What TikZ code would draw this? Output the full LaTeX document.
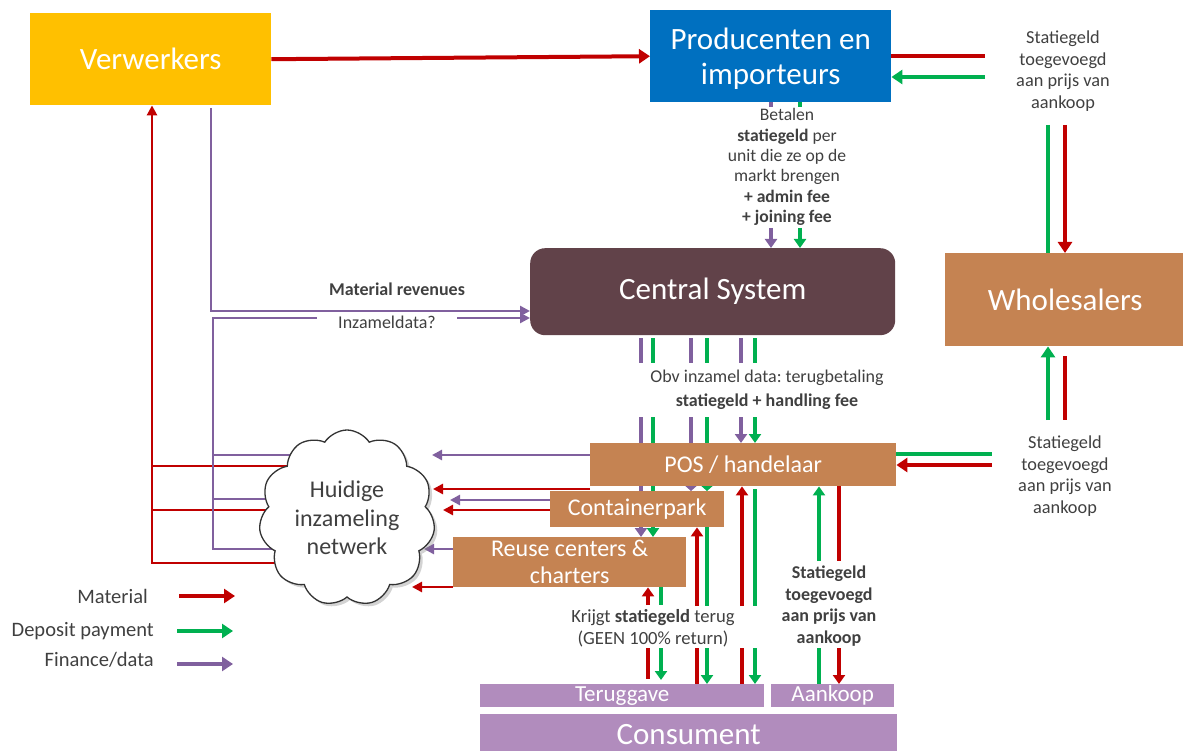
\documentclass[tikz,border=0pt]{standalone}
\usepackage{fontspec}
\setmainfont{Carlito}
\usetikzlibrary{arrows.meta,shapes.symbols,shadows,backgrounds}
\frenchspacing

\definecolor{gold}{HTML}{FFC000}
\definecolor{prodblue}{HTML}{0070C0}
\definecolor{csbrown}{RGB}{97,66,73}
\definecolor{tanbox}{RGB}{197,131,82}
\definecolor{lilac}{RGB}{177,140,189}
\definecolor{matred}{HTML}{C00000}
\definecolor{depgreen}{HTML}{00B050}
\definecolor{finpurple}{RGB}{128,96,158}
\definecolor{txtgray}{HTML}{404040}

\newcommand\fsz[2]{\fontsize{#1}{#2}\selectfont}

\tikzset{
  box/.style={inner sep=0pt, text=white, align=center, anchor=north west},
  lbl/.style={inner sep=0pt, text=txtgray, align=center},
  matline/.style={draw=matred, line width=4.5pt},
  depline/.style={draw=depgreen, line width=4.5pt},
  finline/.style={draw=finpurple, line width=4.5pt},
  matthin/.style={draw=matred, line width=2.7pt},
  finthin/.style={draw=finpurple, line width=2.7pt},
  headbig/.style={-{Triangle[length=11pt,width=14pt]}},
  headmid/.style={-{Triangle[length=9pt,width=12pt]}},
  headtiny/.style={-{Triangle[length=5pt,width=11pt]}},
  headthin/.style={-{Triangle[length=10pt,width=10pt]}},
}

\begin{document}
\begin{tikzpicture}[x=1pt,y=-1pt]
\useasboundingbox (0,0) rectangle (1183,751);

% ---------- boxes ----------
\node[box, fill=gold, minimum width=241pt, minimum height=92pt, font=\fsz{31}{35}] (verw) at (30,13) {Verwerkers};
\node[box, fill=prodblue, minimum width=241pt, minimum height=92pt] (prod) at (650,10) {};
\node[lbl, text=white, font=\fsz{31}{35}] (prodtxt) at ([yshift=-2.5pt]prod.center) {Producenten en\\importeurs};
\node[box, fill=csbrown, rounded corners=15pt, minimum width=365pt, minimum height=87pt, font=\fsz{31}{35}] (cs) at (530,248) {\raisebox{-3pt}{Central System}};
\node[box, fill=tanbox, minimum width=240pt, minimum height=93pt, font=\fsz{31}{35}] (whole) at (945,253) {Wholesalers};
\node[box, fill=tanbox, minimum width=306pt, minimum height=43pt, font=\fsz{24}{28}] (pos) at (590,443) {POS / handelaar};
\node[box, fill=tanbox, minimum width=174pt, minimum height=36pt, font=\fsz{24}{28}] (cpark) at (550,491) {Containerpark};
\node[box, fill=tanbox, minimum width=233pt, minimum height=50pt, font=\fsz{24}{27}] (reuse) at (453,537) {Reuse centers \&\\charters};
\node[box, fill=lilac, minimum width=284pt, minimum height=23pt, font=\fsz{23}{26}] (terug) at (480,684) {\raisebox{-3pt}{Teruggave}};
\node[box, fill=lilac, minimum width=123pt, minimum height=23pt, font=\fsz{23}{26}] (aank) at (771,684) {\raisebox{-2pt}{Aankoop}};
\node[box, fill=lilac, minimum width=417pt, minimum height=42pt, font=\fsz{31}{35}] (cons) at (480,714) {\raisebox{1pt}{Consument}};

\node[cloud, cloud puffs=11, cloud puff arc=115, aspect=1, draw=black!80, fill=white,
      line width=1.3pt, minimum width=176pt, minimum height=176pt, inner sep=0pt,
      drop shadow={shadow xshift=3pt, shadow yshift=-3pt, opacity=0.35},
      text=txtgray, font=\fsz{24}{28.5}, align=center] (cloud) at (347,518) {Huidige\\inzameling\\netwerk};

% ---------- labels ----------
\node[lbl, font=\fsz{17.6}{20.4}] (betalen) at (787,167)
  {Betalen\\\textbf{statiegeld} per\\unit die ze op de\\markt brengen\\\textbf{+ admin fee}\\\textbf{+ joining fee}};
\node[lbl, font=\fsz{18.3}{21.6}] (stattop) at (1063,71) {Statiegeld\\toegevoegd\\aan prijs van\\aankoop};
\node[lbl, font=\fsz{18.3}{21.6}] (statpos) at (1065,476) {Statiegeld\\toegevoegd\\aan prijs van\\aankoop};
\node[lbl, font=\fsz{18}{24}] (obv) at (767,390) {Obv inzamel data: terugbetaling\\\textbf{statiegeld + handling fee}};
\node[lbl, font=\fsz{18.6}{22}] (krijgt) at (653,628) {Krijgt \textbf{statiegeld} terug\\(GEEN 100\% return)};
\node[lbl, font=\bfseries\fsz{18}{21.8}] (statbuy) at (829,606) {Statiegeld\\toegevoegd\\aan prijs van\\aankoop};
\node[lbl, font=\bfseries\fsz{18}{21}] (matrev) at (397,289) {Material revenues};

% ---------- legend ----------
\node[lbl, anchor=east, font=\fsz{20.5}{24}] (lgmat) at (148,596) {Material};
\node[lbl, anchor=east, font=\fsz{20.5}{24}] (lgdep) at (154,631) {Deposit payment};
\node[lbl, anchor=east, font=\fsz{20.5}{24}] (lgfin) at (154,660) {Finance/data};
\coordinate (lgmatend) at (235,596);
\coordinate (lgdepend) at (233,631);
\coordinate (lgfinend) at (233,664);

\begin{pgfonlayer}{background}
% Verwerkers -> Producenten
\draw[matline, line width=4pt, headbig] (verw.east) -- (prod.west);

% wholesale chain at the top right
\draw[matline, line width=4pt] (prod.east |- 0,56) -- (985,56);
\draw[depline, line width=4pt, headbig] (985,77) -- (prod.east |- 0,77);
\draw[depline, line width=4pt] (1048,125) -- (whole.north -| 1048,0);
\draw[matline, line width=4pt, headbig] (1065,125) -- (whole.north -| 1065,0);
\draw[depline, line width=4pt, headbig] (1048,420) -- (whole.south -| 1048,0);
\draw[matline, line width=4pt] (1065,356) -- (1065,420);
\draw[depline, line width=4pt] (pos.east |- 0,454) -- (992,454);
\draw[matline, line width=4pt, headbig] (992,465) -- (pos.east |- 0,465);

% producers pay the central system
\draw[finline] (prod.south -| 771,0) -- (771,107);
\draw[depline] (prod.south -| 800,0) -- (800,107);
\draw[finline, headmid] (771,228) -- (cs.north -| 771,0);
\draw[depline, headmid] (800,228) -- (cs.north -| 800,0);

% central system pays back: stubs below the box
\foreach \xx/\sty in {641/finline,653/depline,691/finline,707/depline,741/finline,755/depline}
  \draw[\sty] (\xx,338) -- (\xx,363);
% ... and the continuing flows
\draw[finline, headmid] (641,417) -- (reuse.north -| 641,0);
\draw[depline, headmid] (653,417) -- (reuse.north -| 653,0);
\draw[finline, headtiny] (691,417) -- (cpark.north -| 691,0);
\draw[depline, headtiny] (707,417) -- (cpark.north -| 707,0);
\draw[finline, headmid] (741,417) -- (pos.north -| 741,0);
\draw[depline, headmid] (755,417) -- (pos.north -| 755,0);

% consumer returns and purchases
\draw[matline, headmid] (648,605) -- (reuse.south -| 648,0);
\draw[depline] (reuse.south -| 661,0) -- (661,605);
\draw[matline] (648,648) -- (648,679);
\draw[depline, headmid] (661,648) -- (661,680);

\draw[matline, headmid] (697,606) -- (cpark.south -| 697,0);
\draw[depline] (cpark.south -| 707,0) -- (707,606);
\draw[matline] (697,648) -- (terug.north -| 697,0);
\draw[depline, headmid] (707,648) -- (terug.north -| 707,0);

\draw[matline, headmid] (742,606) -- (pos.south -| 742,0);
\draw[depline] (755,489) -- (755,606);
\draw[matline] (742,648) -- (terug.north -| 742,0);
\draw[depline, headmid] (755,648) -- (terug.north -| 755,0);

\draw[depline, headmid] (819,561) -- (pos.south -| 819,0);
\draw[matline] (pos.south -| 839,0) -- (839,561);
\draw[depline] (819,648) -- (aank.north -| 819,0);
\draw[matline, headmid] (839,648) -- (aank.north -| 839,0);

% flows into the collection network
\draw[finthin, headthin] (pos.west |- 0,455) -- (432,455);
\draw[matthin, headthin] (590,489) -- (433,489);
\draw[finthin, headthin] (cpark.west |- 0,500) -- (450,500);
\draw[matthin, headthin] (cpark.west |- 0,510) -- (443,510);
\draw[finthin, headthin] (reuse.west |- 0,549) -- (424,549);
\draw[matthin, headthin] (reuse.west |- 0,587) -- (412,587);

% material back to the processors
\draw[matthin, headthin] (cloud.center |- 0,563) -- (152,563) -- (verw.south -| 152,0);
\draw[matthin] (cloud.center |- 0,466) -- (152,466);
\draw[matthin] (cloud.center |- 0,510) -- (152,510);

% finance / data to the central system
\draw[finthin, headthin] (211,108) -- (211,311) -- (cs.west |- 0,311);
\draw[finthin, headthin] (cloud.center |- 0,549) -- (213,549) -- (213,318) -- (cs.west |- 0,318);
\draw[finthin] (cloud.center |- 0,455) -- (213,455);
\draw[finthin] (cloud.center |- 0,499) -- (213,499);

% legend arrows
\draw[matline, headbig] (179,596) -- (lgmatend);
\draw[depline, headbig] (177,631) -- (lgdepend);
\draw[finline, headbig] (177,664) -- (lgfinend);
\end{pgfonlayer}

% label that sits on the data lines
\node[lbl, fill=white, minimum width=140pt, minimum height=19.4pt, font=\fsz{18}{21}] (inzdata) at (387,322) {Inzameldata?};
\end{tikzpicture}
\end{document}
